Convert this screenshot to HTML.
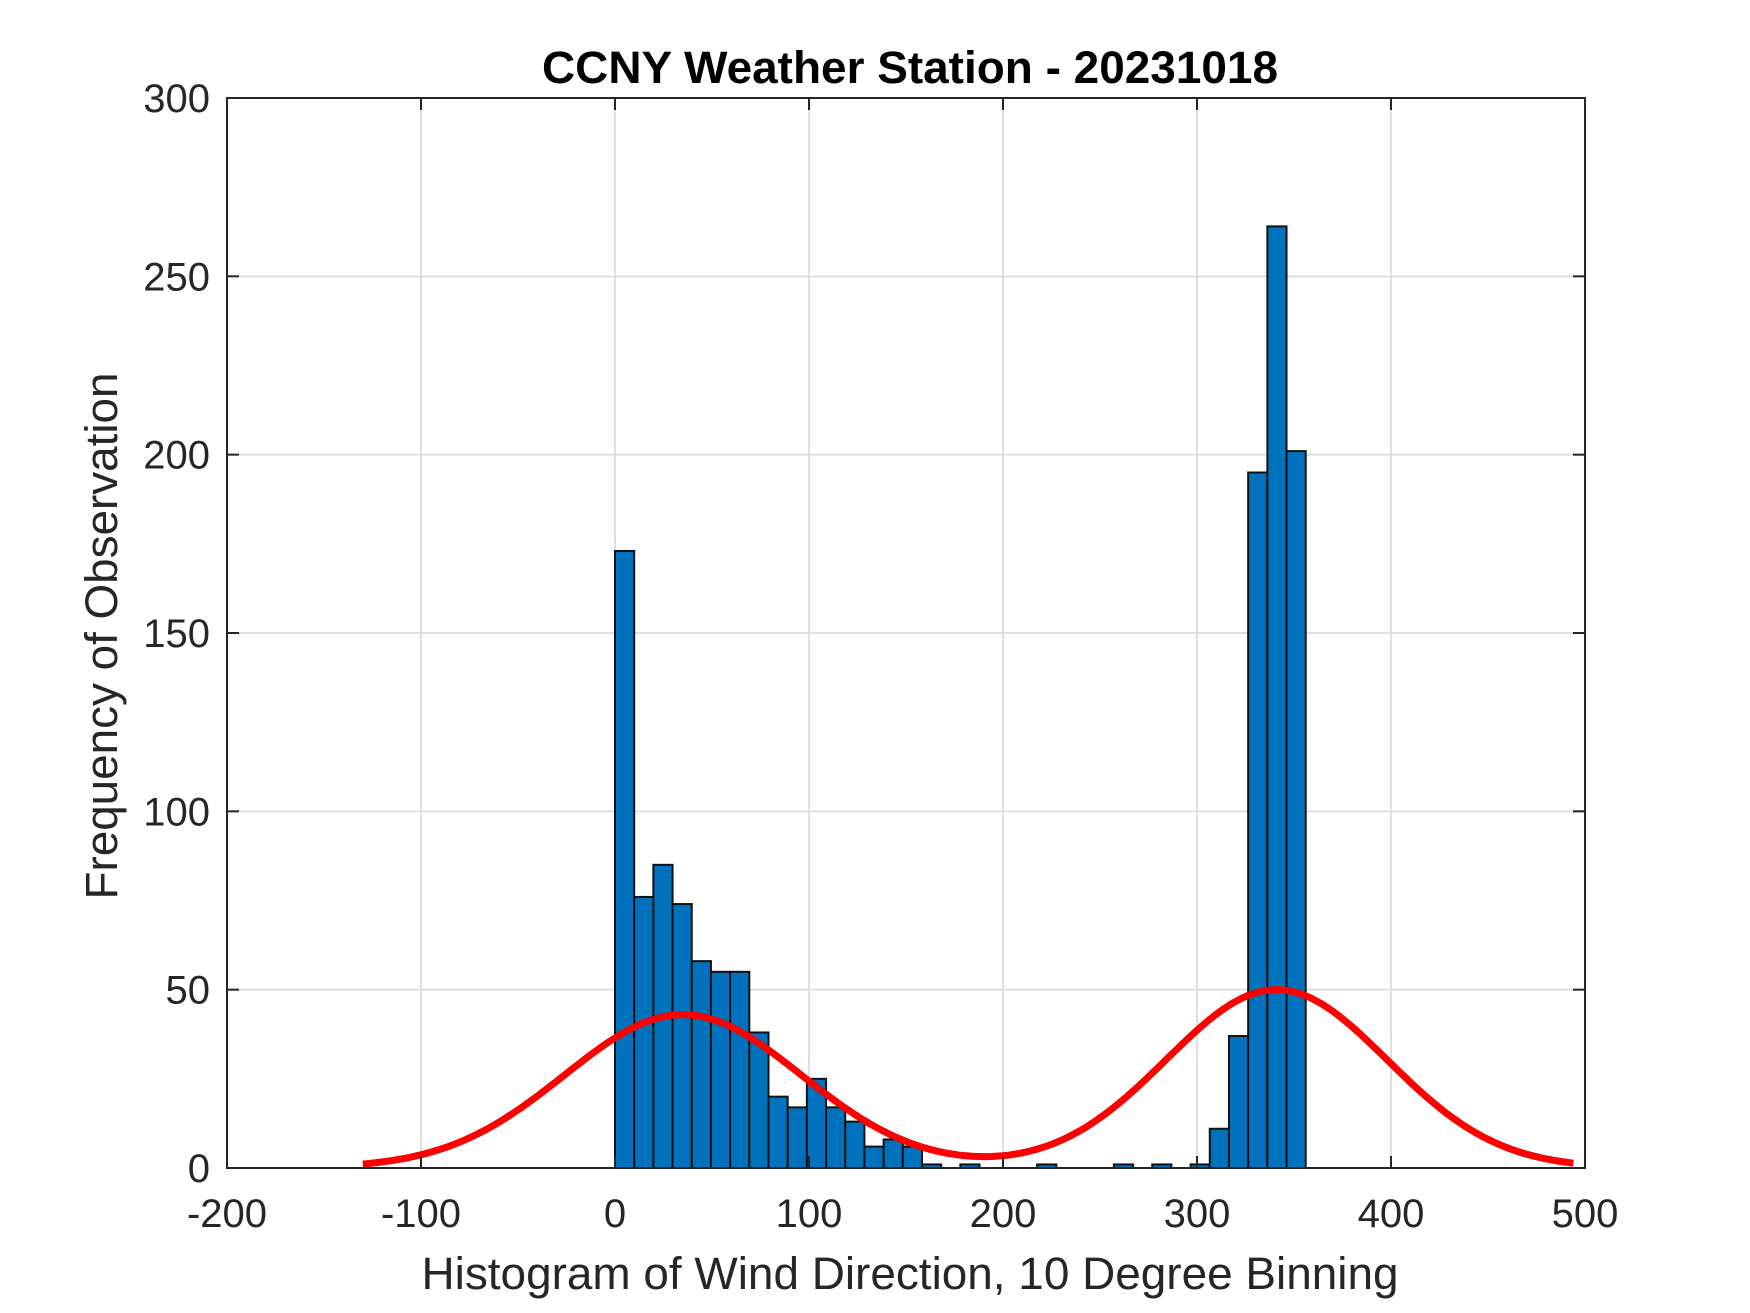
<!DOCTYPE html>
<html><head><meta charset="utf-8"><style>
html,body{margin:0;padding:0;background:#fff}
svg{display:block;font-family:"Liberation Sans",Arial,sans-serif}
</style></head><body>
<svg id="chart" width="1750" height="1313" viewBox="0 0 1750 1313">
<rect width="1750" height="1313" fill="#fff"/>
<g id="grid"></g><g id="bars"></g><g id="curve"></g><g id="axes"></g>
</svg>
<script>
const binIndex=[0,1,2,3,4,5,6,7,8,9,10,11,12,13,14,15,16,17,18,19,20,21,22,23,24,25,26,27,28,29,30,31,32,33,34,35];
const counts=[173,76,85,74,58,55,55,38,20,17,25,17,13,6,8,6,1,0,1,0,0,0,1,0,0,0,1,0,1,0,1,11,37,195,264,201];
const binWidth=9.89;
const xTicks=[-200,-100,0,100,200,300,400,500];
const yTicks=[0,50,100,150,200,250,300];
const fitMeans=[35,341];
const fitSigmas=[61,57];
const fitAmps=[43,50];
const fitRange=[-130,495];

const L=227,R=1585,T=98,B=1168;
const xs=v=>L+(v+200)/700*(R-L);
const ys=v=>B-v/300*(B-T);
const NS='http://www.w3.org/2000/svg';
function mk(tag,attrs,parent,text){const e=document.createElementNS(NS,tag);for(const k in attrs)e.setAttribute(k,attrs[k]);if(text!==undefined)e.textContent=text;parent.appendChild(e);return e;}
const grid=document.getElementById('grid'),bars=document.getElementById('bars'),curve=document.getElementById('curve'),axes=document.getElementById('axes');
xTicks.forEach(t=>{if(t>-200&&t<500){const l=mk('line',{x1:xs(t),x2:xs(t),y1:T,y2:B,stroke:'#dfdfdf','stroke-width':2},grid);

}});
yTicks.forEach(t=>{if(t>0&&t<300){const l=mk('line',{x1:L,x2:R,y1:ys(t),y2:ys(t),stroke:'#dfdfdf','stroke-width':2},grid);

}});
binIndex.forEach((k,i)=>{const s=k*binWidth;const x0=xs(s),x1=xs(s+binWidth),y=ys(counts[i]);
const r=mk('rect',{x:x0,y:y,width:x1-x0,height:B-y,fill:'#0072bd',stroke:'#111','stroke-width':2},bars);

});
let d='';
for(let x=fitRange[0];x<=fitRange[1];x+=2){let v=0;for(let k=0;k<fitMeans.length;k++)v+=fitAmps[k]*Math.exp(-Math.pow(x-fitMeans[k],2)/(2*fitSigmas[k]*fitSigmas[k]));d+=(d?'L':'M')+xs(x).toFixed(1)+','+ys(v).toFixed(1);}
const p=mk('path',{d:d,fill:'none',stroke:'#ff0000','stroke-width':7,'stroke-linejoin':'round'},curve);


const box=mk('rect',{x:L,y:T,width:R-L,height:B-T,fill:'none',stroke:'#262626','stroke-width':2},axes);


xTicks.forEach(t=>{const x=xs(t);
mk('line',{x1:x,x2:x,y1:B,y2:B-12,stroke:'#262626','stroke-width':2},axes);
mk('line',{x1:x,x2:x,y1:T,y2:T+12,stroke:'#262626','stroke-width':2},axes);
const tx=mk('text',{x:x,y:1227,'text-anchor':'middle','font-size':40,fill:'#262626'},axes,String(t));

});
yTicks.forEach(t=>{const y=ys(t);
mk('line',{x1:L,x2:L+12,y1:y,y2:y,stroke:'#262626','stroke-width':2},axes);
mk('line',{x1:R,x2:R-12,y1:y,y2:y,stroke:'#262626','stroke-width':2},axes);
const tx=mk('text',{x:210,y:y+14,'text-anchor':'end','font-size':40,fill:'#262626'},axes,String(t));

});
</script>
<script>
(function(){const s=document.getElementById('chart');const NS='http://www.w3.org/2000/svg';
const t=document.createElementNS(NS,'text');t.setAttribute('x',910);t.setAttribute('y',83);t.setAttribute('text-anchor','middle');t.setAttribute('font-size',45);t.setAttribute('font-weight','bold');t.setAttribute('textLength',736);t.setAttribute('lengthAdjust','spacingAndGlyphs');t.textContent='CCNY Weather Station - 20231018';


s.appendChild(t);
const xl=document.createElementNS(NS,'text');xl.setAttribute('x',910);xl.setAttribute('y',1289);xl.setAttribute('text-anchor','middle');xl.setAttribute('font-size',45);xl.setAttribute('fill','#262626');xl.setAttribute('textLength',977);xl.setAttribute('lengthAdjust','spacingAndGlyphs');xl.textContent='Histogram of Wind Direction, 10 Degree Binning';


s.appendChild(xl);
const yl=document.createElementNS(NS,'text');yl.setAttribute('transform','translate(117,636) rotate(-90)');yl.setAttribute('text-anchor','middle');yl.setAttribute('font-size',45);yl.setAttribute('fill','#262626');yl.setAttribute('textLength',527);yl.setAttribute('lengthAdjust','spacingAndGlyphs');yl.textContent='Frequency of Observation';


s.appendChild(yl);})();
</script>
</body></html>
